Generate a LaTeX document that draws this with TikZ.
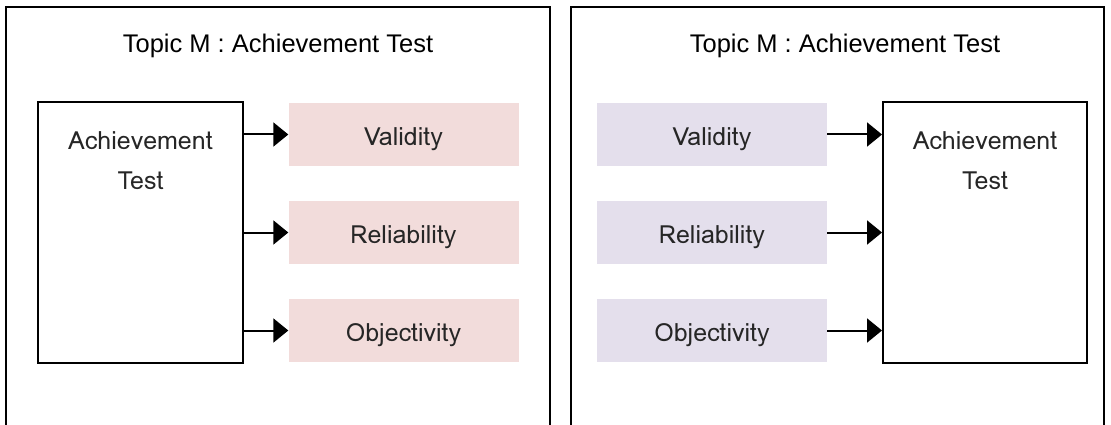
\documentclass[tikz,border=0pt]{standalone}
\usepackage{fontspec}
\setmainfont{Liberation Sans}
\newfontfamily\labelfont{Loma}
\usetikzlibrary{arrows.meta}
\definecolor{pinkfill}{HTML}{F2DCDB}
\definecolor{lilacfill}{HTML}{E4DFEC}
\definecolor{labeltext}{HTML}{262626}
\tikzset{
  frame/.style={line width=2pt, draw=black},
  titletext/.style={font=\fontsize{25.5}{30}\selectfont, text=black, inner sep=0pt},
  mainbox/.style={draw=black, line width=2pt, minimum width=205pt, minimum height=261pt, inner sep=0pt},
  boxtext/.style={font=\labelfont\fontsize{25}{40}\selectfont, text=labeltext, align=center, inner sep=0pt},
  itembox/.style={minimum width=230pt, minimum height=63pt, inner sep=0pt, font=\labelfont\fontsize{25}{30}\selectfont, text=labeltext},
  pinkbox/.style={itembox, fill=pinkfill},
  lilacbox/.style={itembox, fill=lilacfill},
  itemtext/.style={font=\labelfont\fontsize{25}{30}\selectfont, text=labeltext, inner sep=0pt},
  arr/.style={line width=2pt, -{Triangle[length=15pt, width=24pt]}}
}
\begin{document}
\begin{tikzpicture}[x=1pt, y=-1pt]
\useasboundingbox (0,0) rectangle (1111,425);
% outer frames
\draw[frame] (6,426) -- (6,7) -- (550,7) -- (550,426);
\draw[frame] (571,426) -- (571,7) -- (1104,7) -- (1104,426);
% titles
\node[titletext] (t1) at (278,46) {Topic M : Achievement Test};
\node[titletext] (t2) at (845,46) {Topic M : Achievement Test};
% left panel
\node[mainbox] (lbox) at (140.5,232.5) {};
\node[boxtext, anchor=north] (ltxt) at (140.5,131) {Achievement\\Test};
\node[pinkbox] (v1) at (403.5,134.5) {};
\node[pinkbox] (r1) at (403.5,232.5) {};
\node[pinkbox] (o1) at (403.5,330.5) {};
\node[itemtext] (v1t) at (403.5,139) {Validity};
\node[itemtext] (r1t) at (403.5,237) {Reliability};
\node[itemtext] (o1t) at (403.5,335) {Objectivity};
\draw[arr] (lbox.east |- v1) -- (v1.west);
\draw[arr] (lbox.east |- r1) -- (r1.west);
\draw[arr] (lbox.east |- o1) -- (o1.west);
% right panel
\node[mainbox, minimum width=204pt] (rbox) at (985,232.5) {};
\node[boxtext, anchor=north] (rtxt) at (985,131) {Achievement\\Test};
\node[lilacbox] (v2) at (712,134.5) {};
\node[lilacbox] (r2) at (712,232.5) {};
\node[lilacbox] (o2) at (712,330.5) {};
\node[itemtext] (v2t) at (712,139) {Validity};
\node[itemtext] (r2t) at (712,237) {Reliability};
\node[itemtext] (o2t) at (712,335) {Objectivity};
\draw[arr] (v2.east) -- (rbox.west |- v2);
\draw[arr] (r2.east) -- (rbox.west |- r2);
\draw[arr] (o2.east) -- (rbox.west |- o2);
\end{tikzpicture}
\end{document}
